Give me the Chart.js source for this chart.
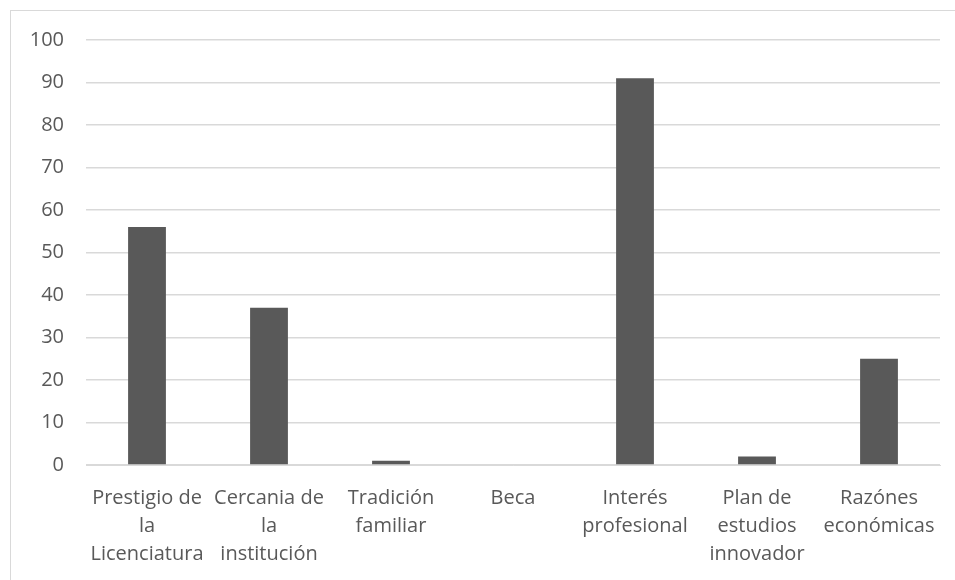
<!DOCTYPE html>
<html>
<head>
<meta charset="utf-8">
<script src="https://cdn.jsdelivr.net/npm/chart.js@4/dist/chart.umd.min.js"></script>
<style>
    html, body { margin: 0; padding: 0; background: #fff; }
    #wrap { position: relative; width: 955px; height: 580px; overflow: hidden; }
    #frame { position: absolute; left: 10px; top: 10px; width: 960px; height: 600px; border: 1.5px solid #d9d9d9; box-sizing: border-box; }
    canvas { position: absolute; left: 0; top: 0; }
</style>
</head>
<body>
<div id="wrap">
    <div id="frame"></div>
    <canvas id="chart" width="955" height="580"></canvas>
</div>
<script>
const categories = [
    ["Prestigio de", "la", "Licenciatura"],
    ["Cercania de", "la", "institución"],
    ["Tradición", "familiar"],
    "Beca",
    ["Interés", "profesional"],
    ["Plan de", "estudios", "innovador"],
    ["Razónes", "económicas"]
];
const values = [56, 37, 1, 0, 91, 2, 25];
const yTicks = [0, 10, 20, 30, 40, 50, 60, 70, 80, 90, 100];

const textColor = "#595959";
const gridColor = "#d9d9d9";
const fontFamily = "'Open Sans', Lato, sans-serif";

const ctx = document.getElementById("chart").getContext("2d");
new Chart(ctx, {
    type: "bar",
    data: {
        labels: categories,
        datasets: [{
            data: values,
            backgroundColor: "#595959",
            categoryPercentage: 1,
            barPercentage: 0.31
        }]
    },
    options: {
        responsive: false,
        animation: false,
        layout: { padding: { top: 40, right: 15, bottom: 0, left: 0 } },
        plugins: {
            legend: { display: false },
            tooltip: { enabled: false }
        },
        scales: {
            x: {
                grid: { display: false },
                border: { color: gridColor, width: 1 },
                ticks: {
                    color: textColor,
                    font: { family: fontFamily, size: 20, lineHeight: 1.4 },
                    padding: 11,
                    maxRotation: 0,
                    autoSkip: false
                },
                afterFit: function (scale) { scale.height = 115; }
            },
            y: {
                min: 0,
                max: 100,
                afterBuildTicks: function (scale) {
                    scale.ticks = yTicks.map(v => ({ value: v }));
                },
                grid: { color: gridColor, lineWidth: 1.5, drawTicks: false },
                border: { display: false },
                ticks: {
                    color: textColor,
                    font: { family: fontFamily, size: 20 },
                    padding: 22
                },
                afterFit: function (scale) { scale.width = 86; }
            }
        }
    }
});
</script>
</body>
</html>
